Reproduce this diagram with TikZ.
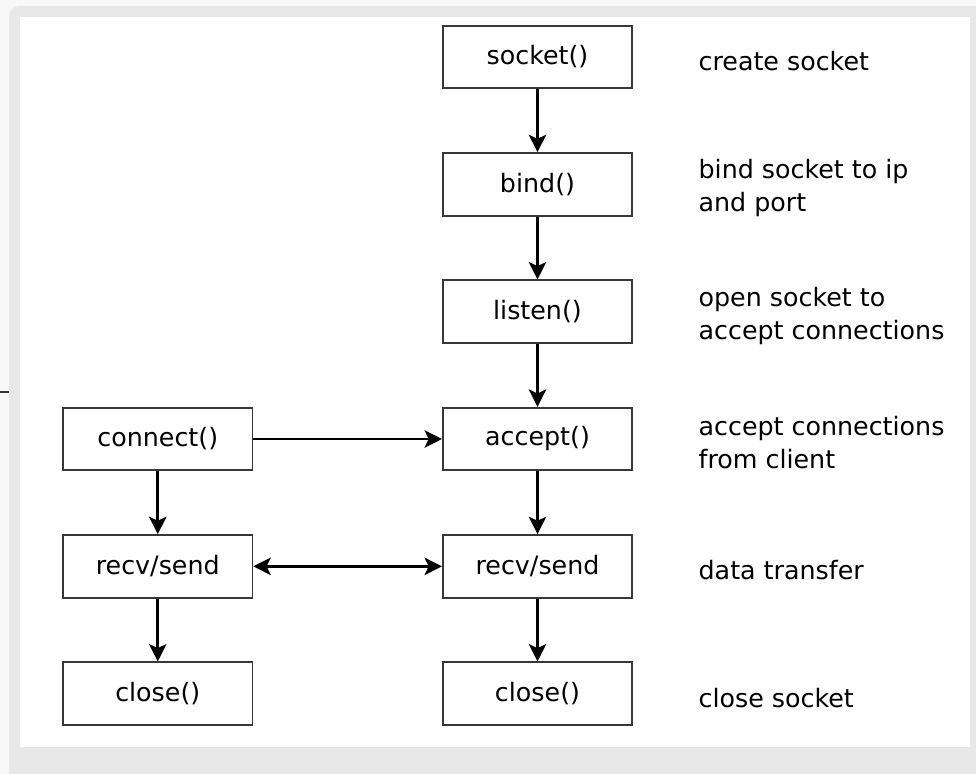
\documentclass[tikz,border=0pt]{standalone}
\usepackage{fontspec}
\setmainfont{DejaVu Sans}
\usetikzlibrary{arrows.meta,positioning}
\definecolor{pagegray}{RGB}{248,248,248}
\definecolor{framegray}{RGB}{232,232,232}
\definecolor{boxline}{RGB}{55,55,55}

\tikzset{
  fnbox/.style={rectangle, draw=boxline, line width=1.3pt, fill=white,
                minimum width=142pt, minimum height=47pt, inner sep=0pt,
                font=\fontsize{19}{24}\selectfont},
  note/.style={align=left, inner sep=0pt, yshift=-3pt,
               font=\fontsize{19}{24.75}\selectfont},
  flow/.style={-{Stealth[length=13pt,width=13pt,inset=3pt]}, line width=2.2pt},
  both/.style={{Stealth[length=13pt,width=13pt,inset=3pt]}-{Stealth[length=13pt,width=13pt,inset=3pt]}, line width=2.2pt}
}

\begin{document}
\begin{tikzpicture}[x=0.75pt, y=-0.75pt, node distance=47.2pt]
  \useasboundingbox (0,0) rectangle (976,774);
  \clip (0,0) rectangle (976,774);
  % frame round the page
  \fill[pagegray] (0,0) rectangle (976,774);
  \fill[framegray, rounded corners=8pt] (9,6) rectangle (1000,800);
  \fill[white] (20,17) rectangle (970,747);
  \draw[boxline, line width=1.5pt] (0,392) -- (9,392);

  % server side
  \node[fnbox] (socket) at (537.5,57) {socket()};
  \node[fnbox, below=of socket] (bind) {bind()};
  \node[fnbox, below=of bind] (listen) {listen()};
  \node[fnbox, below=of listen] (accept) {accept()};
  \node[fnbox, below=of accept] (srecv) {recv/send};
  \node[fnbox, below=of srecv] (sclose) {close()};

  % client side
  \node[fnbox, left=141.5pt of accept] (connect) {connect()};
  \node[fnbox, below=of connect] (crecv) {recv/send};
  \node[fnbox, below=of crecv] (cclose) {close()};

  % notes
  \node[note, right=49pt of socket] (nsocket) {create socket};
  \node[note, right=49pt of bind] (nbind) {bind socket to ip\\and port};
  \node[note, right=49pt of listen] (nlisten) {open socket to\\accept connections};
  \node[note, right=49pt of accept] (naccept) {accept connections\\from client};
  \node[note, right=49pt of srecv] (nrecv) {data transfer};
  \node[note, right=49pt of sclose] (nclose) {close socket};

  \draw[flow] (socket) -- (bind);
  \draw[flow] (bind) -- (listen);
  \draw[flow] (listen) -- (accept);
  \draw[flow] (accept) -- (srecv);
  \draw[flow] (srecv) -- (sclose);
  \draw[flow] (connect) -- (crecv);
  \draw[flow] (crecv) -- (cclose);
  \draw[flow] (connect) -- (accept);
  \draw[both] (crecv) -- (srecv);
\end{tikzpicture}
\end{document}
